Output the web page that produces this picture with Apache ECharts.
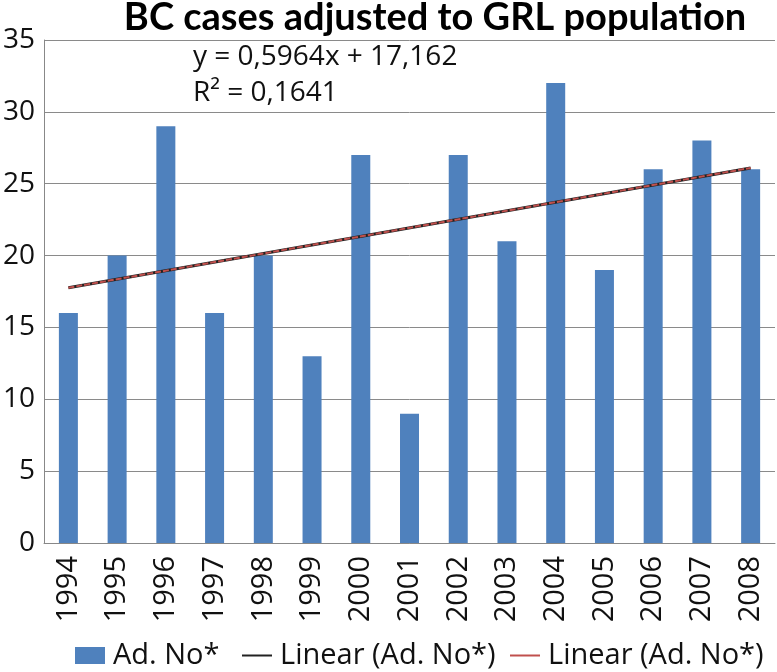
<!DOCTYPE html>
<html><head><meta charset="utf-8">
<script src="https://cdn.jsdelivr.net/npm/echarts@6/dist/echarts.min.js"></script>
<style>html,body{margin:0;padding:0;background:#fff}#c{width:777px;height:672px}</style>
</head><body><div id="c"></div>
<script>
const years = ['1994','1995','1996','1997','1998','1999','2000','2001','2002','2003','2004','2005','2006','2007','2008'];
const adNo = [16,20,29,16,20,13,27,9,27,21,32,19,26,28,26];
// trend line endpoints (first and last category)
const trendLine = [17.76,null,null,null,null,null,null,null,null,null,null,null,null,null,26.1];
const yTicks = [0,5,10,15,20,25,30,35];
const titleText = 'BC cases adjusted to GRL population';
const eqText = 'y = 0,5964x + 17,162';
const r2Text = 'R² = 0,1641';

const FONT = '"Open Sans",sans-serif';
const legendText = {fontSize:29,color:'#111',fontFamily:FONT,padding:[0,0,0,3]};
const chart = echarts.init(document.getElementById('c'));
chart.setOption({
  animation:false,
  title:{text:titleText,left:430,top:-6,textAlign:'center',
    textStyle:{fontFamily:'Lato',fontWeight:'bold',fontSize:38,color:'#000'}},
  grid:{left:43,right:2,top:40,bottom:129,containLabel:false},
  xAxis:{type:'category',data:years,
    axisLine:{lineStyle:{color:'#888',width:1}},axisTick:{show:false},
    axisLabel:{rotate:90,fontSize:29,color:'#111',fontFamily:FONT,margin:13}},
  yAxis:{type:'value',min:yTicks[0],max:yTicks[yTicks.length-1],interval:5,
    axisLine:{show:true,lineStyle:{color:'#888'}},axisTick:{show:false},
    splitLine:{lineStyle:{color:'#8a8a8a',width:1}},
    axisLabel:{fontSize:28,color:'#111',fontFamily:FONT,margin:9}},
  legend:[
    {left:70,top:636,padding:5,itemWidth:30,itemHeight:17,textStyle:legendText,
      data:[{name:'Ad. No*',icon:'rect'}]},
    {left:237,top:636,padding:5,itemWidth:30,itemHeight:2,textStyle:legendText,
      data:[{name:'Linear (Ad. No*)',icon:'rect'}]},
    {left:505,top:636,padding:5,itemWidth:30,itemHeight:2,textStyle:legendText,
      data:[{name:'Linear (Ad. No*) ',icon:'rect'}]}
  ],
  graphic:[
    {type:'text',left:193,top:43,style:{text:eqText,fontSize:28,fill:'#111',fontFamily:FONT}},
    {type:'text',left:193,top:79,style:{text:r2Text,fontSize:28,fill:'#111',fontFamily:FONT}}
  ],
  series:[
    {name:'Ad. No*',type:'bar',data:adNo,barWidth:19,itemStyle:{color:'#4f81bd'}},
    {name:'Linear (Ad. No*)',type:'line',data:trendLine,connectNulls:true,symbol:'none',
      lineStyle:{color:'#222',width:3},itemStyle:{color:'#222'}},
    {name:'Linear (Ad. No*) ',type:'line',data:trendLine,connectNulls:true,symbol:'none',
      lineStyle:{color:'#c0504d',width:2,type:[6,2]},itemStyle:{color:'#c0504d'}}
  ]
});
</script></body></html>
